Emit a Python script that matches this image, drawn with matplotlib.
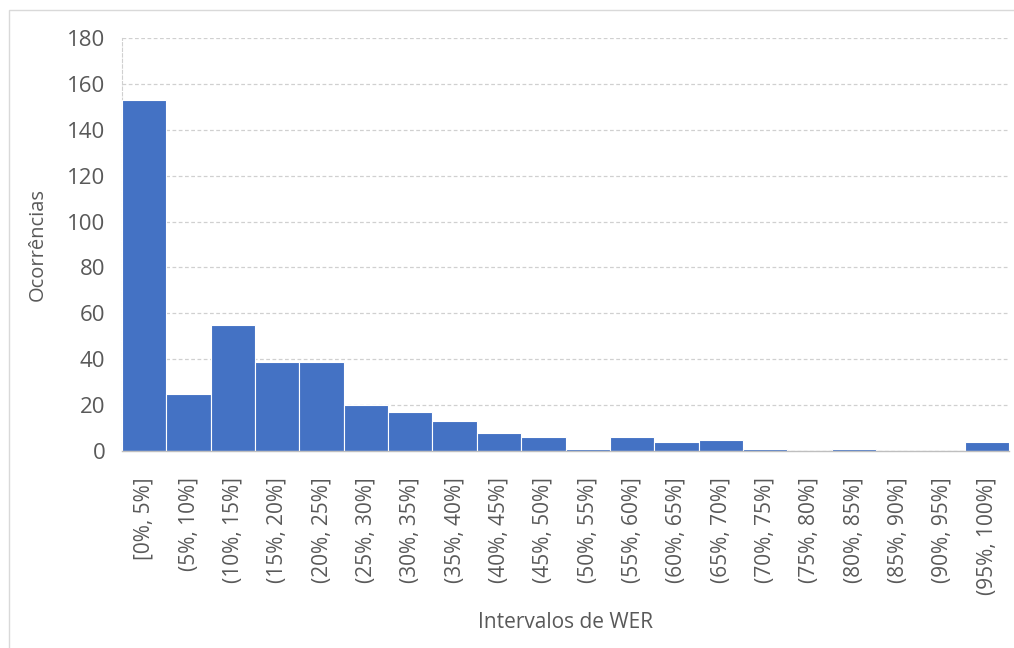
import matplotlib
matplotlib.use("Agg")
import matplotlib.pyplot as plt
from matplotlib.patches import Rectangle

categories = ["[0%, 5%]", "(5%, 10%]", "(10%, 15%]", "(15%, 20%]", "(20%, 25%]",
              "(25%, 30%]", "(30%, 35%]", "(35%, 40%]", "(40%, 45%]", "(45%, 50%]",
              "(50%, 55%]", "(55%, 60%]", "(60%, 65%]", "(65%, 70%]", "(70%, 75%]",
              "(75%, 80%]", "(80%, 85%]", "(85%, 90%]", "(90%, 95%]", "(95%, 100%]"]
counts = [153, 25, 55, 39, 39, 20, 17, 13, 8, 6, 1, 6, 4, 5, 1, 0, 1, 0, 0, 4]
yticks = [0, 20, 40, 60, 80, 100, 120, 140, 160, 180]

plt.rcParams['font.family'] = ['Open Sans', 'DejaVu Sans']
text_color = '#595959'
grid_color = '#D0D0D0'

fig = plt.figure(figsize=(10.14, 6.48), dpi=100)
fig.patch.set_facecolor('white')

# chart area border
fig.patches.append(Rectangle((9 / 1014, -0.05), 1.2, 1 - 10 / 648 + 0.05,
                             transform=fig.transFigure, fill=False,
                             edgecolor='#D9D9D9', linewidth=1.0))

ax = fig.add_axes([122 / 1014, 1 - 451 / 648, (1009 - 122) / 1014, (451 - 38) / 648])
x = list(range(len(categories)))
ax.bar(x, counts, width=1.0, color='#4472C4', edgecolor='white', linewidth=0.8, zorder=3)

ax.set_xlim(-0.5, len(categories) - 0.5)
ax.set_ylim(0, 180)
ax.set_yticks(yticks)
ax.set_yticklabels([str(v) for v in yticks])
ax.set_xticks(x)
ax.set_xticklabels(categories, rotation=90, va='top', ha='center')

ax.grid(axis='y', color=grid_color, linestyle=(0, (3, 2)), linewidth=0.9, zorder=0)
for side in ['top', 'right']:
    ax.spines[side].set_visible(False)
ax.spines['left'].set_color(grid_color)
ax.spines['left'].set_linestyle((0, (3, 2)))
ax.spines['bottom'].set_color('#BFBFBF')
ax.spines['bottom'].set_linewidth(1.0)
ax.spines['bottom'].set_zorder(4)

ax.tick_params(axis='both', length=0, colors=text_color)
ax.tick_params(axis='y', pad=12, labelsize=16)
ax.tick_params(axis='x', pad=19, labelsize=15)

ax.set_ylabel('Ocorrências', color=text_color, fontsize=14.5, labelpad=14)
ax.set_xlabel('Intervalos de WER', color=text_color, fontsize=15, labelpad=12)

fig.savefig('out.png', dpi=100, facecolor='white')
